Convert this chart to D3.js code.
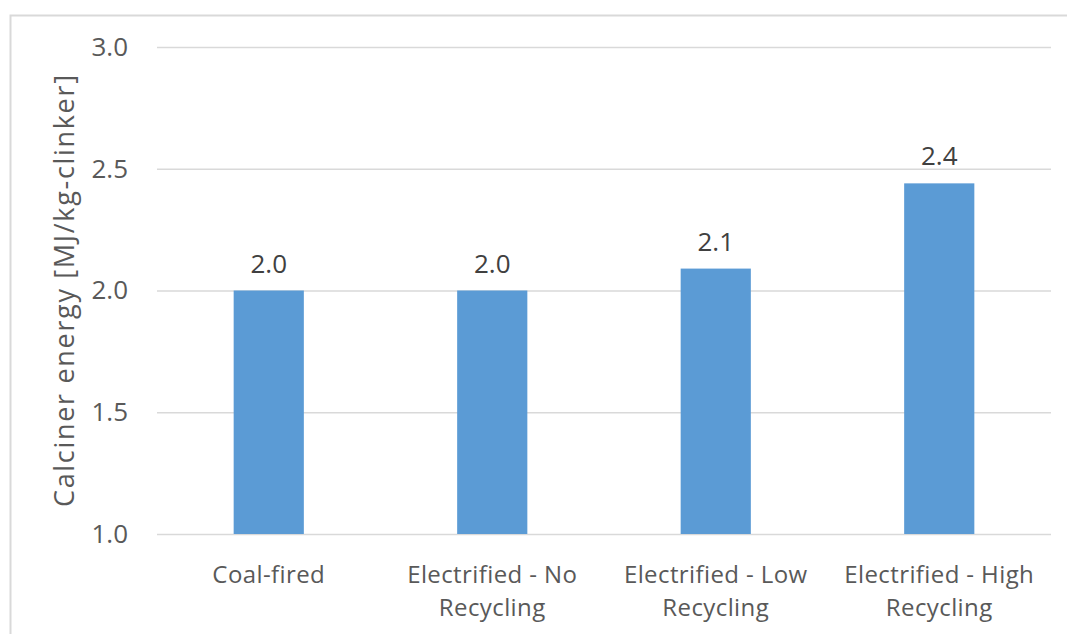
<!DOCTYPE html>
<html>
<head>
<meta charset="utf-8">
<script src="https://cdn.jsdelivr.net/npm/d3@7"></script>
<style>
  html, body { margin: 0; padding: 0; background: #fff; }
  svg { display: block; font-family: "Open Sans", Lato, sans-serif; }
</style>
</head>
<body>
<svg id="chart" width="1067" height="634"></svg>
<script>
// Calciner energy per kg of clinker for each kiln configuration
const categories = [
  ["Coal-fired"],
  ["Electrified - No", "Recycling"],
  ["Electrified - Low", "Recycling"],
  ["Electrified - High", "Recycling"]
];
const values = [2.0, 2.0, 2.09, 2.44];
const valueLabels = ["2.0", "2.0", "2.1", "2.4"];
const yTicks = [1.0, 1.5, 2.0, 2.5, 3.0];
const yTitle = "Calciner energy [MJ/kg-clinker]";

const svg = d3.select("#chart");
const plot = { left: 157, right: 1051, top: 47, bottom: 534 };
const textColor = "#595959";
const fontSize = 26;

// Outer chart frame (left and top edges)
svg.append("path")
  .attr("d", "M10.5,634 V15.5 H1067")
  .attr("fill", "none")
  .attr("stroke", "#D9D9D9")
  .attr("stroke-width", 2);

const x = d3.scaleBand()
  .domain(d3.range(categories.length))
  .range([plot.left, plot.right])
  .paddingInner(0.686)
  .paddingOuter(0.343);

const y = d3.scaleLinear()
  .domain([1.0, 3.0])
  .range([plot.bottom, plot.top]);

// Gridlines and tick labels
const yAxis = d3.axisLeft(y)
  .tickValues(yTicks)
  .tickFormat(d3.format(".1f"))
  .tickSize(-(plot.right - plot.left))
  .tickPadding(29);

const gy = svg.append("g")
  .attr("transform", `translate(${plot.left},0)`)
  .call(yAxis);
gy.select(".domain").remove();
gy.selectAll(".tick line")
  .attr("stroke", "#D9D9D9")
  .attr("stroke-width", 1.5);
gy.selectAll(".tick text")
  .attr("fill", textColor)
  .attr("font-size", fontSize)
  .attr("font-family", "Open Sans, Lato, sans-serif");

// Bars
svg.append("g").selectAll("rect")
  .data(values)
  .join("rect")
  .attr("x", (d, i) => x(i))
  .attr("width", x.bandwidth())
  .attr("y", d => y(d))
  .attr("height", d => y(1.0) - y(d))
  .attr("fill", "#5B9BD5");

// Value labels
svg.append("g").selectAll("text")
  .data(values)
  .join("text")
  .attr("x", (d, i) => x(i) + x.bandwidth() / 2)
  .attr("y", d => y(d) - 18)
  .attr("text-anchor", "middle")
  .attr("fill", "#404040")
  .attr("font-size", fontSize)
  .text((d, i) => valueLabels[i]);

// Category labels (two-line where needed)
const cat = svg.append("g").selectAll("text")
  .data(categories)
  .join("text")
  .attr("x", (d, i) => x(i) + x.bandwidth() / 2)
  .attr("y", 583)
  .attr("text-anchor", "middle")
  .attr("fill", textColor)
  .attr("font-size", 24)
  .attr("letter-spacing", 0.4);
cat.selectAll("tspan")
  .data(d => d)
  .join("tspan")
  .attr("x", function () { return d3.select(this.parentNode).attr("x"); })
  .attr("dy", (d, i) => i === 0 ? 0 : 33)
  .text(d => d);

// Y axis title
svg.append("text")
  .attr("transform", `translate(74,291) rotate(-90)`)
  .attr("text-anchor", "middle")
  .attr("fill", textColor)
  .attr("font-size", 27)
  .attr("textLength", 432)
  .attr("lengthAdjust", "spacing")
  .text(yTitle);
</script>
</body>
</html>
